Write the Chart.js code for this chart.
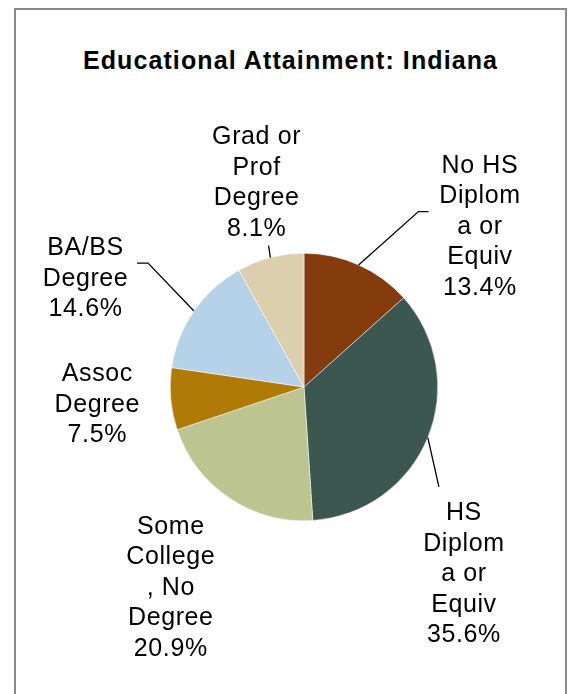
<!DOCTYPE html>
<html>
<head>
<meta charset="utf-8">
<title>Educational Attainment: Indiana</title>
<script src="https://cdn.jsdelivr.net/npm/chart.js@4.4.0/dist/chart.umd.min.js"></script>
<style>
    body { margin: 0; background: #fff; overflow: hidden; }
    #frame {
        position: absolute; left: 14px; top: 8px; width: 553px; height: 720px;
        border: 2px solid #8a8a8a; box-sizing: border-box;
    }
    #chartTitle {
        position: absolute; left: 14px; width: 553px; top: 46px;
        text-align: center; font: bold 25px "Liberation Sans", Arial, sans-serif;
        letter-spacing: 1.1px; color: #000;
    }
    #pieChart { position: absolute; left: 0; top: 0; }
</style>
</head>
<body>
<div id="frame"></div>
<div id="chartTitle">Educational Attainment: Indiana</div>
<canvas id="pieChart" width="570" height="694"></canvas>
<script>
// Data
const categories = ['No HS Diploma or Equiv', 'HS Diploma or Equiv', 'Some College, No Degree',
    'Assoc Degree', 'BA/BS Degree', 'Grad or Prof Degree'];
const shares = [13.4, 35.6, 20.9, 7.5, 14.6, 8.1];
// label text as wrapped in the original
const labelLines = [
    ['No HS', 'Diplom', 'a or', 'Equiv'],
    ['HS', 'Diplom', 'a or', 'Equiv'],
    ['Some', 'College', ', No', 'Degree'],
    ['Assoc', 'Degree'],
    ['BA/BS', 'Degree'],
    ['Grad or', 'Prof', 'Degree']
];

const sliceColors = ['#843c0c', '#3b5750', '#bcc590', '#b07a06', '#b6d2e8', '#dccfae'];

// where each label sits: turn (deg) from the slice middle, distance in radii,
// and leader points relative to the label centre
const labelPlacement = [
    { turn: 23.2, dist: 1.79, leader: [[-61.5, -13], [-51.5, -13]] },
    { turn: 27.0, dist: 1.83, leader: [[-25, -85.5]] },
    { turn: 0, dist: 1.79, leader: null },
    { turn: 0.7, dist: 1.55, leader: null },
    { turn: -7.8, dist: 1.83, leader: [[62.5, -13.5], [51.5, -13.5]] },
    { turn: 1.6, dist: 1.58, leader: [[12, 64.5]] }
];

const LABEL_FONT = '25px "Liberation Sans", Arial, sans-serif';
const LINE_PITCH = 30.5;

const outsideLabels = {
    id: 'outsideLabels',
    afterDatasetsDraw(chart) {
        const ctx = chart.ctx;
        const meta = chart.getDatasetMeta(0);
        ctx.save();
        ctx.font = LABEL_FONT;
        ctx.letterSpacing = '0.6px';
        ctx.fillStyle = '#000';
        ctx.strokeStyle = '#000';
        ctx.lineWidth = 1.3;
        ctx.textAlign = 'center';
        ctx.textBaseline = 'alphabetic';

        meta.data.forEach((arc, i) => {
            const p = arc.getProps(['x', 'y', 'startAngle', 'endAngle', 'outerRadius'], true);
            const mid = (p.startAngle + p.endAngle) / 2;
            const place = labelPlacement[i];
            const a = mid + place.turn * Math.PI / 180;
            const cx = p.x + Math.cos(a) * p.outerRadius * place.dist;
            const cy = p.y + Math.sin(a) * p.outerRadius * place.dist;

            const lines = labelLines[i].concat([shares[i].toFixed(1) + '%']);
            lines.forEach((txt, k) => {
                const ly = cy + (k - (lines.length - 1) / 2) * LINE_PITCH;
                ctx.fillText(txt, cx, ly + 9);
            });

            if (place.leader) {
                ctx.beginPath();
                ctx.moveTo(p.x + Math.cos(mid) * p.outerRadius, p.y + Math.sin(mid) * p.outerRadius);
                place.leader.forEach(pt => ctx.lineTo(cx + pt[0], cy + pt[1]));
                ctx.stroke();
            }
        });
        ctx.restore();
    }
};

new Chart(document.getElementById('pieChart'), {
    type: 'pie',
    data: {
        labels: categories,
        datasets: [{
            data: shares,
            backgroundColor: sliceColors,
            borderColor: '#ffffff',
            borderWidth: 0.5
        }]
    },
    options: {
        responsive: false,
        devicePixelRatio: 1,
        animation: false,
        layout: { padding: { left: 170, right: 132, top: 253, bottom: 173 } },
        plugins: {
            legend: { display: false },
            tooltip: { enabled: false },
            title: { display: false }
        }
    },
    plugins: [outsideLabels]
});
</script>
</body>
</html>
